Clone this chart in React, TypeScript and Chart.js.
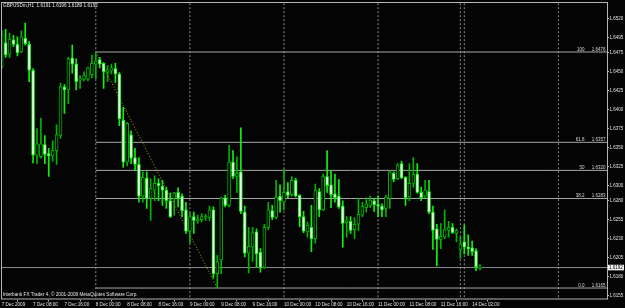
import React, { useEffect, useRef } from 'react';
import { Chart, registerables } from 'chart.js';
Chart.register(...registerables);

// ---- data (H1 candles, GBPUSDm, 7 Dec 2009 00:00 .. 14 Dec 2009 04:00) ----
const opens = [
  1.6456, 1.6488, 1.6473, 1.6492, 1.6486, 1.6476, 1.6494, 1.6486, 1.6452, 1.6340,
  1.6338, 1.6354, 1.6342, 1.6339, 1.6346, 1.6366, 1.6430, 1.6426, 1.6468, 1.6460,
  1.6439, 1.6440, 1.6440, 1.6446, 1.6460, 1.6466, 1.6461, 1.6449, 1.6451, 1.6454,
  1.6447, 1.6386, 1.6331, 1.6367, 1.6337, 1.6328, 1.6286, 1.6310, 1.6283, 1.6294,
  1.6303, 1.6299, 1.6294, 1.6280, 1.6283, 1.6291, 1.6286, 1.6268, 1.6240, 1.6259,
  1.6253, 1.6255, 1.6257, 1.6258, 1.6268, 1.6184, 1.6202, 1.6284, 1.6274, 1.6331,
  1.6312, 1.6318, 1.6265, 1.6211, 1.6219, 1.6239, 1.6212, 1.6192, 1.6245, 1.6267,
  1.6258, 1.6286, 1.6278, 1.6292, 1.6288, 1.6307, 1.6287, 1.6259, 1.6239, 1.6245,
  1.6230, 1.6292, 1.6268, 1.6312, 1.6301, 1.6289, 1.6286, 1.6273, 1.6251, 1.6253,
  1.6242, 1.6249, 1.6261, 1.6271, 1.6274, 1.6280, 1.6275, 1.6273, 1.6270, 1.6283,
  1.6316, 1.6309, 1.6329, 1.6311, 1.6285, 1.6303, 1.6315, 1.6291, 1.6286, 1.6292,
  1.6265, 1.6243, 1.6229, 1.6232, 1.6241, 1.6245, 1.6237, 1.6216, 1.6226, 1.6219,
  1.6218, 1.6214, 1.6191,
];
const highs = [
  1.6505, 1.6506, 1.6501, 1.6498, 1.6496, 1.6504, 1.6514, 1.6490, 1.6454, 1.6375,
  1.6389, 1.6366, 1.6349, 1.6359, 1.6380, 1.6435, 1.6433, 1.6469, 1.6485, 1.6467,
  1.6445, 1.6450, 1.6456, 1.6472, 1.6476, 1.6469, 1.6462, 1.6458, 1.6460, 1.6461,
  1.6449, 1.6403, 1.6383, 1.6372, 1.6349, 1.6337, 1.6318, 1.6318, 1.6309, 1.6313,
  1.6309, 1.6307, 1.6298, 1.6290, 1.6291, 1.6297, 1.6289, 1.6278, 1.6265, 1.6265,
  1.6261, 1.6263, 1.6262, 1.6273, 1.6272, 1.6208, 1.6285, 1.6287, 1.6353, 1.6346,
  1.6338, 1.6376, 1.6273, 1.6245, 1.6245, 1.6243, 1.6217, 1.6249, 1.6278, 1.6274,
  1.6307, 1.6301, 1.6321, 1.6304, 1.6312, 1.6310, 1.6288, 1.6266, 1.6252, 1.6274,
  1.6302, 1.6296, 1.6315, 1.6346, 1.6320, 1.6315, 1.6308, 1.6280, 1.6259, 1.6259,
  1.6258, 1.6283, 1.6278, 1.6284, 1.6286, 1.6283, 1.6286, 1.6276, 1.6287, 1.6319,
  1.6318, 1.6329, 1.6332, 1.6312, 1.6329, 1.6337, 1.6329, 1.6298, 1.6307, 1.6307,
  1.6273, 1.6249, 1.6250, 1.6268, 1.6253, 1.6250, 1.6243, 1.6232, 1.6248, 1.6235,
  1.6227, 1.6217, 1.6196,
];
const lows = [
  1.6454, 1.6469, 1.6469, 1.6483, 1.6471, 1.6475, 1.6485, 1.6437, 1.6330, 1.6329,
  1.6336, 1.6329, 1.6312, 1.6332, 1.6328, 1.6362, 1.6395, 1.6408, 1.6448, 1.6426,
  1.6428, 1.6438, 1.6438, 1.6442, 1.6441, 1.6455, 1.6428, 1.6437, 1.6447, 1.6436,
  1.6379, 1.6324, 1.6326, 1.6329, 1.6320, 1.6278, 1.6278, 1.6270, 1.6254, 1.6280,
  1.6280, 1.6274, 1.6270, 1.6258, 1.6261, 1.6272, 1.6259, 1.6237, 1.6224, 1.6237,
  1.6250, 1.6252, 1.6254, 1.6254, 1.6178, 1.6165, 1.6184, 1.6272, 1.6272, 1.6309,
  1.6291, 1.6263, 1.6206, 1.6185, 1.6200, 1.6193, 1.6186, 1.6191, 1.6242, 1.6255,
  1.6256, 1.6265, 1.6268, 1.6284, 1.6286, 1.6285, 1.6246, 1.6238, 1.6232, 1.6213,
  1.6224, 1.6259, 1.6267, 1.6291, 1.6271, 1.6278, 1.6270, 1.6219, 1.6232, 1.6237,
  1.6230, 1.6241, 1.6259, 1.6265, 1.6271, 1.6266, 1.6259, 1.6259, 1.6259, 1.6270,
  1.6305, 1.6308, 1.6309, 1.6274, 1.6280, 1.6298, 1.6290, 1.6280, 1.6284, 1.6263,
  1.6216, 1.6194, 1.6217, 1.6230, 1.6232, 1.6237, 1.6226, 1.6204, 1.6210, 1.6208,
  1.6208, 1.6188, 1.6189,
];
const closes = [
  1.6500, 1.6472, 1.6493, 1.6486, 1.6475, 1.6496, 1.6487, 1.6452, 1.6340, 1.6355,
  1.6355, 1.6341, 1.6339, 1.6346, 1.6367, 1.6430, 1.6426, 1.6467, 1.6460, 1.6437,
  1.6441, 1.6445, 1.6455, 1.6461, 1.6464, 1.6460, 1.6450, 1.6453, 1.6455, 1.6447,
  1.6388, 1.6331, 1.6382, 1.6336, 1.6328, 1.6286, 1.6311, 1.6283, 1.6296, 1.6303,
  1.6300, 1.6294, 1.6280, 1.6259, 1.6290, 1.6283, 1.6267, 1.6240, 1.6259, 1.6254,
  1.6256, 1.6259, 1.6259, 1.6268, 1.6184, 1.6200, 1.6284, 1.6274, 1.6331, 1.6312,
  1.6316, 1.6266, 1.6211, 1.6220, 1.6238, 1.6210, 1.6192, 1.6245, 1.6268, 1.6258,
  1.6285, 1.6280, 1.6291, 1.6287, 1.6307, 1.6286, 1.6259, 1.6240, 1.6248, 1.6230,
  1.6294, 1.6268, 1.6312, 1.6300, 1.6288, 1.6284, 1.6272, 1.6250, 1.6254, 1.6241,
  1.6249, 1.6262, 1.6273, 1.6276, 1.6281, 1.6275, 1.6273, 1.6268, 1.6285, 1.6318,
  1.6308, 1.6327, 1.6310, 1.6284, 1.6303, 1.6315, 1.6291, 1.6284, 1.6294, 1.6265,
  1.6241, 1.6229, 1.6233, 1.6242, 1.6245, 1.6238, 1.6241, 1.6223, 1.6219, 1.6217,
  1.6213, 1.6193, 1.6192,
];

const timeTickIndex = [0, 8, 16, 24, 32, 40, 48, 56, 64, 72, 80, 88, 96, 104, 112, 120];
const timeLabels = [
  '7 Dec 2009', '7 Dec 08:00', '7 Dec 16:00', '8 Dec 00:00', '8 Dec 08:00', '8 Dec 16:00',
  '9 Dec 00:00', '9 Dec 08:00', '9 Dec 16:00', '10 Dec 00:00', '10 Dec 08:00', '10 Dec 16:00',
  '11 Dec 00:00', '11 Dec 08:00', '11 Dec 16:00', '14 Dec 02:00',
];
const priceTicks = [
  1.6520, 1.6495, 1.6475, 1.6450, 1.6425, 1.6400, 1.6375, 1.6350, 1.6325, 1.6300,
  1.6280, 1.6255, 1.6230, 1.6205, 1.6180, 1.6155,
];
const fibLevels = ['100', '61.8', '50', '38.2', '0.0'];
const fibPrices = [1.6476, 1.6357, 1.6320, 1.6283, 1.6165];
const fibStartIndex = 24;
const trendStartIndex = 24;
const trendStartPrice = 1.6476;
const trendEndIndex = 55;
const trendEndPrice = 1.6165;
const separatorIndex = [24, 48, 72, 96, 117, 118, 142];
const bidPrice = 1.6192;
const headerText = 'GBPUSDm,H1  1.6191 1.6196 1.6189 1.6192';
const footerText = 'Interbank FX Trader 4, \u00A9 2001-2009 MetaQuotes Software Corp.';

const X_MIN = -0.18;
const X_MAX = 154.4;
const Y_MIN = 1.61499;
const Y_MAX = 1.65403;

const FONT = 'Liberation Sans, Arial, sans-serif';
const BULL_LINE = '#00b400';
const BEAR_LINE = '#10f010';

export default function App() {
  const ref = useRef<HTMLCanvasElement | null>(null);

  useEffect(() => {
    const canvas = ref.current;
    if (!canvas) return;
    document.body.style.margin = '0';
    document.body.style.background = '#000';

    const isBull = closes.map((c, i) => c >= opens[i]);
    const idx = opens.map((_, i) => i);

    const frame = {
      id: 'mt4frame',
      beforeDraw(chart: any) {
        const c = chart.ctx;
        c.save();
        c.fillStyle = '#040404';
        c.fillRect(0, 0, chart.width, chart.height);
        c.restore();
      },
      afterDraw(chart: any) {
        const c = chart.ctx;
        const a = chart.chartArea;
        const ys = chart.scales.y;
        c.save();
        // frame
        c.strokeStyle = '#b4b4b4';
        c.lineWidth = 1;
        c.strokeRect(Math.round(a.left) + 0.5, Math.round(a.top) - 0.5, Math.round(a.right - a.left), Math.round(a.bottom - a.top) + 0.5);
        // header / footer
        c.font = `4.7px ${FONT}`;
        c.fillStyle = '#e6e6e6';
        c.textBaseline = 'alphabetic';
        c.textAlign = 'left';
        c.fillText(headerText, 3, 6.6);
        c.fillText(footerText, 2.7, 296.2);
        // fib labels
        c.font = `4.5px ${FONT}`;
        c.fillStyle = '#d8d8d8';
        fibPrices.forEach((p, k) => {
          const y = ys.getPixelForValue(p);
          c.textAlign = 'right';
          c.fillText(fibLevels[k], 584.5, y - 1.5);
          c.fillText(p.toFixed(4), 605.5, y - 1.5);
        });
        // bid label box
        const by = ys.getPixelForValue(bidPrice);
        c.fillStyle = '#f4f4f4';
        c.fillRect(a.right + 1, by - 2.8, 16, 5.6);
        c.fillStyle = '#000';
        c.textAlign = 'left';
        c.textBaseline = 'middle';
        c.fillText(bidPrice.toFixed(4), a.right + 2, by + 0.3);
        c.restore();
      },
    };

    const lineDs = (data: any[], color: string, order: number, dash: number[] = []) => ({
      type: 'line',
      data,
      borderColor: color,
      borderWidth: 1,
      borderDash: dash,
      pointRadius: 0,
      fill: false,
      order,
      tension: 0,
    });

    const datasets: any[] = [
      {
        type: 'bar',
        label: 'body',
        data: idx.map((i) => ({ x: i, y: [opens[i], closes[i]] })),
        backgroundColor: isBull.map((b) => (b ? '#000000' : '#f2fff2')),
        borderColor: isBull.map((b) => (b ? BULL_LINE : BEAR_LINE)),
        borderWidth: 1,
        borderSkipped: false,
        barThickness: 3,
        minBarLength: 1,
        grouped: false,
        order: 1,
      },
      {
        type: 'bar',
        label: 'wick',
        data: idx.map((i) => ({ x: i, y: [lows[i], highs[i]] })),
        backgroundColor: isBull.map((b) => (b ? BULL_LINE : BEAR_LINE)),
        borderWidth: 0,
        barThickness: 1,
        grouped: false,
        order: 2,
      },
      lineDs(
        [{ x: trendStartIndex, y: trendStartPrice }, { x: trendEndIndex, y: trendEndPrice }],
        '#b0a800', 3, [1, 2]
      ),
      lineDs([{ x: X_MIN, y: bidPrice }, { x: X_MAX, y: bidPrice }], '#8a8a8a', 4),
      ...fibPrices.map((p) => lineDs([{ x: fibStartIndex, y: p }, { x: X_MAX, y: p }], '#a8a8a8', 4)),
      ...separatorIndex.map((s) => lineDs([{ x: s, y: Y_MAX }, { x: s, y: Y_MIN }], '#8c8c8c', 5, [2, 2])),
    ];

    const chart = new Chart(canvas, {
      type: 'bar',
      data: { datasets },
      plugins: [frame],
      options: {
        animation: false,
        responsive: false,
        devicePixelRatio: 1,
        layout: { padding: { left: 1, top: 2, right: 0, bottom: 0 } },
        plugins: { legend: { display: false }, tooltip: { enabled: false } },
        scales: {
          x: {
            type: 'linear',
            min: X_MIN,
            max: X_MAX,
            offset: false,
            grid: { display: true, drawOnChartArea: false, drawTicks: true, tickLength: 2, color: '#b4b4b4' },
            border: { display: false },
            afterBuildTicks: (s: any) => {
              s.ticks = timeTickIndex.map((v) => ({ value: v }));
            },
            afterFit: (s: any) => {
              s.height = 8.5;
            },
            ticks: {
              autoSkip: false,
              maxRotation: 0,
              minRotation: 0,
              align: 'start',
              padding: 0,
              color: '#e0e0e0',
              font: { family: FONT, size: 4.6 },
              callback: (v: any) => {
                const k = timeTickIndex.indexOf(Number(v));
                return k >= 0 ? timeLabels[k] : '';
              },
            },
          },
          y: {
            type: 'linear',
            position: 'right',
            min: Y_MIN,
            max: Y_MAX,
            grid: { display: true, drawOnChartArea: false, drawTicks: true, tickLength: 2, color: '#b4b4b4' },
            border: { display: false },
            afterBuildTicks: (s: any) => {
              s.ticks = priceTicks.map((v) => ({ value: v }));
            },
            afterFit: (s: any) => {
              s.width = 18;
            },
            ticks: {
              autoSkip: false,
              padding: 0.5,
              color: '#e0e0e0',
              font: { family: FONT, size: 4.5 },
              callback: (v: any) => Number(v).toFixed(4),
            },
          },
        },
      } as any,
    } as any);

    return () => chart.destroy();
  }, []);

  return (
    <div style={{ position: 'fixed', left: 0, top: 0, width: 625, height: 308, background: '#040404' }}>
      <canvas ref={ref} width={625} height={308} style={{ width: 625, height: 308, display: 'block' }} />
    </div>
  );
}
